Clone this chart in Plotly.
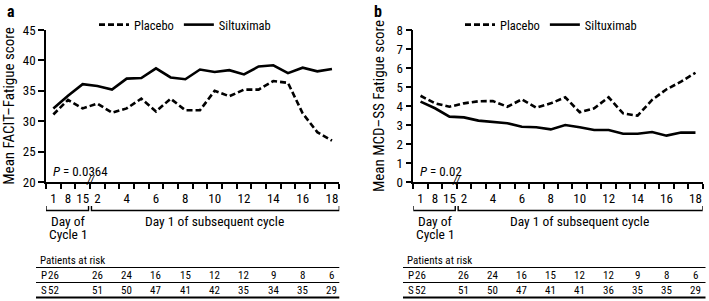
import plotly.graph_objects as go

# ---------------- data ----------------
visits = ["C1D1", "C1D8", "C1D15"] + ["C%d" % c for c in range(2, 19)]
visit_text = ["1", "8", "15", "2", "", "4", "", "6", "", "8", "", "10", "", "12", "", "14", "", "16", "", "18"]

facit_placebo = [31.1, 33.5, 32.1, 32.9, 31.4, 32.1, 33.7, 31.6, 33.7, 31.8, 31.8, 35.0, 34.1, 35.2, 35.2, 36.6, 36.3, 31.3, 28.2, 26.8]
facit_siltux = [32.1, 34.2, 36.1, 35.8, 35.2, 37.0, 37.1, 38.7, 37.2, 36.9, 38.5, 38.1, 38.4, 37.7, 39.0, 39.2, 37.9, 38.8, 38.2, 38.6]

mcd_placebo = [4.54, 4.14, 3.96, 4.14, 4.25, 4.26, 3.96, 4.35, 3.91, 4.14, 4.46, 3.67, 3.88, 4.46, 3.61, 3.49, 4.32, 4.88, 5.28, 5.75]
mcd_siltux = [4.23, 3.88, 3.44, 3.40, 3.23, 3.16, 3.09, 2.91, 2.88, 2.77, 3.00, 2.88, 2.74, 2.74, 2.54, 2.54, 2.63, 2.44, 2.60, 2.60]

risk_visits = ["C1D1", "C2", "C4", "C6", "C8", "C10", "C12", "C14", "C16", "C18"]
risk_a_P = [26, 26, 24, 16, 15, 12, 12, 9, 8, 6]
risk_a_S = [52, 51, 50, 47, 41, 42, 35, 34, 35, 29]
risk_b_P = [26, 26, 24, 16, 15, 12, 12, 9, 8, 6]
risk_b_S = [52, 51, 50, 47, 41, 41, 36, 35, 35, 29]

pvals = ["0.0364", "0.02"]
ytitles = ["Mean FACIT\u2013Fatigue score", "Mean MCD\u2013SS Fatigue score"]
yranges = [[20, 45], [0, 8]]
ydticks = [5, 1]

# ---------------- style ----------------
W, H = 709, 301
FONT = "Roboto Condensed, Archivo Narrow, Liberation Sans, sans-serif"
x_idx = list(range(len(visits)))


def py(px):
    return 1 - px / H


dom_x = [[46 / W, 339.3 / W], [413.3 / W, 702.7 / W]]
dom_y = [py(182), py(30)]
table_x = [[36 / W, 339.3 / W], [403 / W, 705.5 / W]]

fig = go.Figure()
panels = [(facit_placebo, facit_siltux, risk_a_P, risk_a_S), (mcd_placebo, mcd_siltux, risk_b_P, risk_b_S)]
for k, (pl, si, rp, rs) in enumerate(panels):
    xa = "x" if k == 0 else "x2"
    ya = "y" if k == 0 else "y2"
    leg = "legend" if k == 0 else "legend2"
    fig.add_trace(go.Scatter(x=x_idx, y=pl, mode="lines", name="Placebo", xaxis=xa, yaxis=ya, legend=leg,
                             line=dict(color="black", width=2.6, dash="6px,3px")))
    fig.add_trace(go.Scatter(x=x_idx, y=si, mode="lines", name="Siltuximab", xaxis=xa, yaxis=ya, legend=leg,
                             line=dict(color="black", width=2.6)))

common_x = dict(range=[-0.5, len(visits) - 0.5], tickvals=x_idx, ticktext=visit_text, ticks="outside",
                ticklen=4, tickcolor="rgba(0,0,0,0)", showline=True, linecolor="black", linewidth=1.6,
                showgrid=False, zeroline=False, automargin=False,
                tickfont=dict(family=FONT, size=13, color="black"),
                minor=dict(ticks="outside", ticklen=5, tickwidth=1.5, tickcolor="black", tick0=-0.5, dtick=1,
                           showgrid=False))
common_y = dict(ticks="outside", ticklen=6, tickwidth=1.5, tickcolor="black", showline=True, linecolor="black",
                linewidth=1.6, showgrid=False, zeroline=False, automargin=False,
                tickfont=dict(family=FONT, size=13, color="black"))

fig.update_layout(
    xaxis=dict(domain=dom_x[0], anchor="y", **common_x),
    xaxis2=dict(domain=dom_x[1], anchor="y2", **common_x),
    yaxis=dict(domain=dom_y, anchor="x", range=yranges[0], dtick=ydticks[0],
               title=dict(text=ytitles[0], font=dict(family=FONT, size=15, color="black"), standoff=8), **common_y),
    yaxis2=dict(domain=dom_y, anchor="x2", range=yranges[1], dtick=ydticks[1],
                title=dict(text=ytitles[1], font=dict(family=FONT, size=15, color="black"), standoff=8), **common_y),
)

annotations = []
shapes = []
for k in range(2):
    xs = "" if k == 0 else "2"
    xr = "x" + xs
    tl, tr = table_x[k]
    # P value
    annotations.append(dict(x=-0.5, y=yranges[k][0], xref=xr, yref="y" + xs, text="<i>P</i> = " + pvals[k],
                            showarrow=False, xanchor="left", yanchor="bottom", xshift=5, yshift=1,
                            font=dict(family=FONT, size=13, color="black")))
    # axis break
    annotations.append(dict(x=2.5, y=yranges[k][0], xref=xr, yref="y" + xs, text="<i>//</i>", showarrow=False,
                            xanchor="center", yanchor="middle", yshift=2,
                            font=dict(family=FONT, size=12, color="black")))
    # brackets
    for (a, b) in [(-0.5, 2.4), (2.6, len(visits) - 0.5)]:
        shapes.append(dict(type="path", xref=xr, yref="paper",
                           path="M %f,%f L %f,%f L %f,%f L %f,%f" % (a, py(206), a, py(210.5), b, py(210.5), b, py(206)),
                           line=dict(color="black", width=1.4)))
    annotations.append(dict(x=1, y=py(221), xref=xr, yref="paper", yanchor="middle", text="Day of",
                            showarrow=False, font=dict(family=FONT, size=13.5, color="black")))
    annotations.append(dict(x=1, y=py(233.5), xref=xr, yref="paper", yanchor="middle", text="Cycle 1",
                            showarrow=False, font=dict(family=FONT, size=13.5, color="black")))
    annotations.append(dict(x=11, y=py(221), xref=xr, yref="paper", yanchor="middle",
                            text="Day 1 of subsequent cycle",
                            showarrow=False, font=dict(family=FONT, size=13.5, color="black")))
    # risk table
    annotations.append(dict(x=tl + 2 / W, y=py(260), xref="paper", yref="paper", yanchor="middle",
                            text="Patients at risk", showarrow=False, xanchor="left",
                            font=dict(family=FONT, size=11, color="black")))
    for yy, wid in [(267.5, 1.2), (282.5, 1.2), (297.5, 1.8)]:
        shapes.append(dict(type="line", xref="paper", yref="paper", x0=tl, x1=tr, y0=py(yy), y1=py(yy),
                           line=dict(color="black", width=wid)))
    rows = [("P", panels[k][2], 275), ("S", panels[k][3], 290)]
    for lab, vals, yy in rows:
        annotations.append(dict(x=tl + 3 / W, y=py(yy), xref="paper", yref="paper", yanchor="middle", text=lab,
                                showarrow=False, xanchor="left", font=dict(family=FONT, size=11, color="black")))
        for v, n in zip(risk_visits, vals):
            annotations.append(dict(x=visits.index(v), y=py(yy), xref=xr, yref="paper", yanchor="middle",
                                    text=str(n), showarrow=False, font=dict(family=FONT, size=11, color="black")))

annotations.append(dict(x=5 / W, y=1, xref="paper", yref="paper", yanchor="top", text="<b>a</b>",
                        showarrow=False, xanchor="left", font=dict(family=FONT, size=16, color="black")))
annotations.append(dict(x=372 / W, y=1, xref="paper", yref="paper", yanchor="top", text="<b>b</b>",
                        showarrow=False, xanchor="left", font=dict(family=FONT, size=16, color="black")))

legfont = dict(family=FONT, size=12.5, color="black")
fig.update_layout(
    width=W, height=H, margin=dict(l=0, r=0, t=0, b=0, autoexpand=False),
    paper_bgcolor="white", plot_bgcolor="white",
    annotations=annotations, shapes=shapes,
    legend=dict(orientation="h", x=94 / W, y=py(25), xanchor="left", yanchor="middle", font=legfont,
                bgcolor="rgba(0,0,0,0)", itemwidth=30, tracegroupgap=0),
    legend2=dict(orientation="h", x=460 / W, y=py(25), xanchor="left", yanchor="middle", font=legfont,
                 bgcolor="rgba(0,0,0,0)", itemwidth=30, tracegroupgap=0),
)

fig.write_html("out.html", config={"displayModeBar": False})
html = open("out.html").read().replace("<body>", '<body style="margin:0">', 1)
open("out.html", "w").write(html)
